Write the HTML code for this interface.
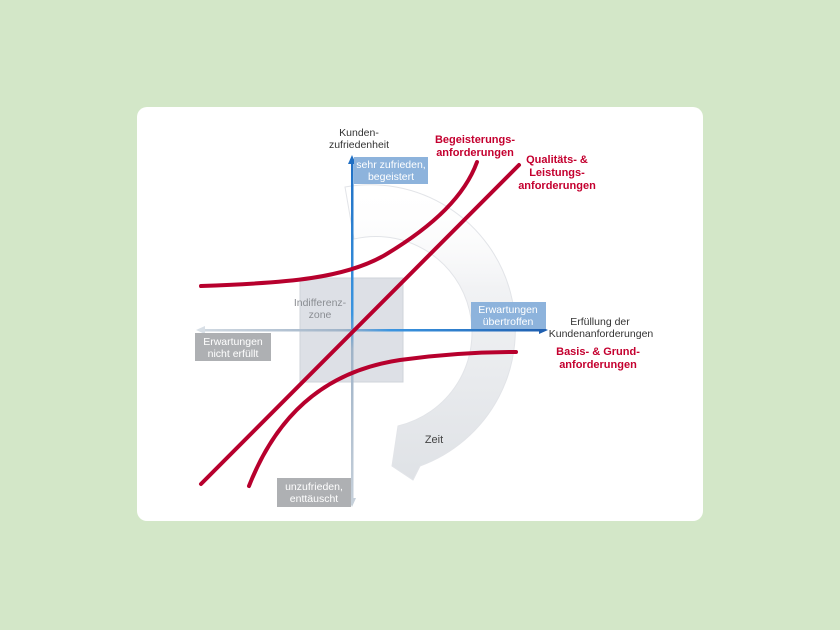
<!DOCTYPE html>
<html><head><meta charset="utf-8"><style>
html,body{margin:0;padding:0;background:#d3e7c8;}
svg{display:block}
text{font-family:"Liberation Sans",sans-serif;}
</style></head><body>
<svg width="840" height="630" viewBox="0 0 840 630" xmlns="http://www.w3.org/2000/svg">
<defs>
<linearGradient id="arc" gradientUnits="userSpaceOnUse" x1="0" y1="185" x2="0" y2="480">
<stop offset="0" stop-color="#ffffff" stop-opacity="0"/>
<stop offset="0.35" stop-color="#f1f2f4"/>
<stop offset="1" stop-color="#dfe2e6"/>
</linearGradient>
<linearGradient id="vax" gradientUnits="userSpaceOnUse" x1="0" y1="158" x2="0" y2="505">
<stop offset="0" stop-color="#1f6fc4"/>
<stop offset="0.45" stop-color="#3b95e0"/>
<stop offset="0.55" stop-color="#9fb3c8"/>
<stop offset="1" stop-color="#c6d0da"/>
</linearGradient>
<linearGradient id="hax" gradientUnits="userSpaceOnUse" x1="197" y1="0" x2="547" y2="0">
<stop offset="0" stop-color="#d2dae2"/>
<stop offset="0.42" stop-color="#9fb3c8"/>
<stop offset="0.55" stop-color="#3b95e0"/>
<stop offset="1" stop-color="#1f5fb0"/>
</linearGradient>
</defs>
<rect x="137" y="107" width="566" height="414" rx="10" fill="#fff"/>
<!-- Zeit arc -->
<path d="M345,187 A145,145 0 0 1 420,466 L413,480 L392,466 L398,426 A92,92 0 0 0 354,239 Z" fill="url(#arc)" stroke="#e2e4e8" stroke-width="1"/>
<text x="434" y="443" font-size="11" fill="#444" text-anchor="middle">Zeit</text>
<!-- indifference zone -->
<rect x="300" y="278" width="103" height="104" fill="#dde0e6" stroke="#cfd3da"/>
<text x="320" y="306" font-size="10.5" fill="#8a8d92" text-anchor="middle">Indifferenz-</text>
<text x="320" y="318" font-size="10.5" fill="#8a8d92" text-anchor="middle">zone</text>
<!-- axes -->
<rect x="351" y="162" width="2.5" height="340" fill="url(#vax)"/>
<polygon points="352,155 348,164 356,164" fill="#1f6fc4"/>
<polygon points="352,507 348,498 356,498" fill="#c6d0da"/>
<rect x="200" y="329" width="343" height="2.5" fill="url(#hax)"/>
<polygon points="548,330 539,326 539,334" fill="#1f5fb0"/>
<polygon points="196,330 205,326 205,334" fill="#d8dfe6"/>
<!-- boxes -->
<rect x="354" y="157" width="74" height="27" fill="#8db3dc"/>
<text x="391" y="168" font-size="10.5" fill="#fff" text-anchor="middle">sehr zufrieden,</text>
<text x="391" y="180" font-size="10.5" fill="#fff" text-anchor="middle">begeistert</text>
<rect x="471" y="302" width="75" height="27" fill="#8db3dc"/>
<text x="508" y="313" font-size="10.5" fill="#fff" text-anchor="middle">Erwartungen</text>
<text x="508" y="325" font-size="10.5" fill="#fff" text-anchor="middle">übertroffen</text>
<rect x="195" y="333" width="76" height="28" fill="#aeb0b3"/>
<text x="233" y="345" font-size="10.5" fill="#fff" text-anchor="middle">Erwartungen</text>
<text x="233" y="357" font-size="10.5" fill="#fff" text-anchor="middle">nicht erfüllt</text>
<rect x="277" y="478" width="74" height="29" fill="#aeb0b3"/>
<text x="314" y="490" font-size="10.5" fill="#fff" text-anchor="middle">unzufrieden,</text>
<text x="314" y="502" font-size="10.5" fill="#fff" text-anchor="middle">enttäuscht</text>
<!-- axis labels -->
<text x="359" y="136" font-size="10.5" fill="#333" text-anchor="middle">Kunden-</text>
<text x="359" y="148" font-size="10.5" fill="#333" text-anchor="middle">zufriedenheit</text>
<text x="600" y="325" font-size="10.5" fill="#333" text-anchor="middle">Erfüllung der</text>
<text x="601" y="337" font-size="10.5" fill="#333" text-anchor="middle">Kundenanforderungen</text>
<!-- curves -->
<g fill="none" stroke="#b7002d" stroke-width="4" stroke-linecap="round">
<path d="M201,286 C290,283 345,278 385,255 C435,225 465,195 477,162"/>
<path d="M201,484 L519,165"/>
<path d="M249,486 C275,420 320,372 400,360 C450,353 490,352 516,352"/>
</g>
<!-- red labels -->
<g font-size="11" font-weight="bold" fill="#c4002f" text-anchor="middle">
<text x="475" y="143">Begeisterungs-</text>
<text x="475" y="156">anforderungen</text>
<text x="557" y="163">Qualitäts- &amp;</text>
<text x="557" y="176">Leistungs-</text>
<text x="557" y="189">anforderungen</text>
<text x="598" y="355">Basis- &amp; Grund-</text>
<text x="598" y="368">anforderungen</text>
</g>
</svg>
</body></html>
